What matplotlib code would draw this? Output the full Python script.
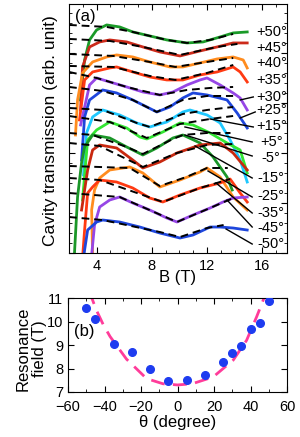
import numpy as np
import matplotlib
matplotlib.use("Agg")
import matplotlib.pyplot as plt
from matplotlib.ticker import MultipleLocator

plt.rcParams['font.family'] = ['Liberation Sans', 'DejaVu Sans']

# ---- panel (a): cavity transmission traces, offset, arb. units ----
angles = ['+50°', '+45°', '+40°', '+35°', '+30°', '+25°', '+15°', '+5°',
          '-5°', '-15°', '-25°', '-35°', '-45°', '-50°']
colors = ['#1a9a28', '#cc2a1a', '#ff8c1e', '#ff3a12', '#9646e6', '#1e46dc', '#1ec8ff',
          '#32e632', '#1a9628', '#c8280f', '#ff8c1e', '#ff3a12', '#9646e6', '#1e46dc']

B_p50 = [2.84, 2.91, 3.13, 3.49, 4.0, 4.73, 5.67, 6.62, 7.85, 9.09, 10.55, 11.71, 12.95, 13.89, 14.91]
T_p50 = [153, 166, 193, 213, 223, 228, 226, 221, 217, 213, 210, 211, 216, 220, 221]
B_p45 = [2.84, 2.98, 3.49, 4.22, 4.95, 6.18, 7.35, 8.58, 10.04, 11.49, 12.73, 13.89, 14.91]
T_p45 = [143, 186, 206, 211, 213, 211, 206, 201, 197, 202, 206, 210, 210]
B_p40 = [2.47, 2.62, 2.98, 3.71, 4.73, 5.45, 6.62, 7.85, 9.31, 10.25, 11.49, 12.73, 13.89, 14.62, 14.91]
T_p40 = [118, 153, 180, 191, 196, 198, 196, 191, 186, 186, 190, 194, 196, 193, 185]
B_p35 = [2.76, 3.13, 3.71, 4.95, 5.45, 6.62, 7.85, 9.09, 10.25, 11.49, 12.73, 13.89, 14.4, 14.91]
T_p35 = [133, 173, 181, 185, 186, 181, 176, 173, 173, 178, 181, 186, 181, 171]
B_p30 = [2.84, 3.49, 4.0, 4.95, 6.18, 7.35, 8.58, 9.53, 10.55, 11.49, 12.0, 12.95, 13.89, 14.4, 14.91]
T_p30 = [128, 168, 175, 171, 166, 161, 158, 161, 168, 173, 175, 168, 160, 155, 143]
B_p25 = [2.91, 3.13, 3.49, 4.44, 5.45, 6.62, 7.64, 8.36, 9.31, 10.25, 10.98, 12.0, 13.45, 14.18, 14.91]
T_p25 = [93, 136, 153, 163, 160, 153, 146, 141, 146, 155, 160, 158, 153, 140, 125]
B_p15 = [3.05, 3.27, 3.71, 4.44, 5.67, 6.91, 7.85, 9.09, 10.25, 10.76, 12.0, 12.95, 13.67, 14.4, 14.91]
T_p15 = [78, 120, 136, 143, 138, 130, 126, 131, 141, 143, 138, 130, 113, 93, 71]
B_p5 = [2.98, 3.35, 4.0, 4.95, 6.18, 7.13, 7.64, 8.8, 10.04, 10.98, 12.22, 13.45, 14.4, 14.91]
T_p5 = [53, 113, 123, 131, 125, 116, 114, 121, 130, 128, 120, 110, 103, 80]
B_m5 = [2.33, 2.62, 2.91, 3.13, 3.71, 4.95, 6.18, 7.35, 8.36, 9.53, 10.25, 11.49, 12.44, 13.45, 13.82]
T_m5 = [-17, 56, 90, 106, 118, 115, 106, 98, 105, 115, 118, 110, 96, 76, 63]
B_m15 = [2.91, 3.35, 3.71, 4.22, 5.45, 6.62, 7.35, 8.58, 9.82, 11.49, 12.95, 13.89, 14.91]
T_m15 = [43, 83, 103, 108, 105, 93, 85, 91, 100, 108, 110, 100, 83]
B_m25 = [3.71, 3.64, 3.85, 4.22, 4.95, 6.4, 7.35, 8.58, 10.04, 11.49, 12.0, 12.95, 13.89, 14.91]
T_m25 = [-2, 43, 63, 75, 83, 86, 80, 66, 73, 81, 85, 76, 56, 43]
B_m35 = [2.98, 3.13, 3.35, 3.71, 4.22, 5.45, 6.62, 7.85, 8.8, 10.04, 11.49, 12.95, 13.67, 14.4, 14.91]
T_m35 = [-5, 23, 60, 66, 73, 71, 65, 55, 51, 58, 65, 70, 74, 60, 51]
B_m45 = [3.64, 3.85, 4.22, 4.95, 5.67, 6.62, 7.85, 9.09, 9.82, 10.98, 12.22, 13.16, 13.89, 14.91]
T_m45 = [-2, 28, 46, 53, 56, 50, 43, 35, 31, 38, 45, 51, 55, 56]
B_m50 = [3.05, 3.13, 3.35, 4.0, 4.44, 5.67, 7.13, 8.58, 10.04, 10.98, 12.22, 12.95, 13.89, 14.91]
T_m50 = [-5, 3, 23, 31, 33, 31, 26, 20, 15, 18, 26, 26, 25, 23]

# fits (black dashed)
fB_p50 = [2.0, 4.73, 6.62, 9.09, 10.55, 12.22, 13.89]
fT_p50 = [228, 226, 221, 213, 210, 213, 219]
fB_p45 = [2.0, 4.95, 7.35, 10.04, 12.73, 14.2]
fT_p45 = [214, 212, 206, 198, 206, 209]
fB_p40 = [2.0, 5.2, 7.85, 9.7, 12.0, 13.9]
fT_p40 = [199, 197, 191, 186, 191, 195]
fB_p35 = [2.0, 5.2, 7.85, 9.7, 12.0, 13.9]
fT_p35 = [187, 186, 177, 173, 180, 188]
fB_p30 = [2.0, 4.0, 6.18, 8.58, 10.55, 12.22, 13.89]
fT_p30 = [181, 175, 166, 158, 163, 165, 166]
fB_p25 = [2.0, 4.44, 6.62, 8.36, 10.25, 12.0, 13.89]
fT_p25 = [166, 162, 153, 141, 153, 157, 157]
fB_p15 = [2.0, 4.44, 6.91, 7.85, 10.25, 12.0, 13.89]
fT_p15 = [145, 143, 130, 126, 139, 143, 146]
fB_p5 = [2.0, 4.95, 7.64, 10.04, 12.22, 13.89]
fT_p5 = [137, 131, 115, 129, 134, 137]
fB_m5 = [2.0, 3.71, 6.18, 7.35, 9.53, 10.25, 12.0, 13.7]
fT_m5 = [120, 118, 106, 99, 114, 118, 120, 120]
fB_m15 = [2.0, 4.22, 7.35, 9.82, 12.0, 13.9]
fT_m15 = [110, 107, 86, 100, 108, 109]
fB_m25 = [2.0, 6.4, 8.58, 10.5, 12.0, 13.5]
fT_m25 = [87, 85, 67, 76, 85, 85]
fB_m35 = [2.0, 4.22, 8.8, 11.49, 13.67]
fT_m35 = [75, 73, 51, 65, 74]
fB_m45 = [2.0, 5.67, 9.82, 12.22, 13.9]
fT_m45 = [60, 56, 31, 45, 55]
fB_m50 = [2.0, 4.44, 8.58, 10.04, 12.0, 13.2]
fT_m50 = [36, 33, 21, 16, 25, 28]

curves_B = [B_p50, B_p45, B_p40, B_p35, B_p30, B_p25, B_p15, B_p5, B_m5, B_m15, B_m25, B_m35, B_m45, B_m50]
curves_T = [T_p50, T_p45, T_p40, T_p35, T_p30, T_p25, T_p15, T_p5, T_m5, T_m15, T_m25, T_m35, T_m45, T_m50]
fits_B = [fB_p50, fB_p45, fB_p40, fB_p35, fB_p30, fB_p25, fB_p15, fB_p5, fB_m5, fB_m15, fB_m25, fB_m35, fB_m45, fB_m50]
fits_T = [fT_p50, fT_p45, fT_p40, fT_p35, fT_p30, fT_p25, fT_p15, fT_p5, fT_m5, fT_m15, fT_m25, fT_m35, fT_m45, fT_m50]

# label positions (y) and pointer lines (None = no pointer)
label_T = [221, 205, 190, 173, 156, 143, 127, 111, 95, 75, 57, 40, 25, 9]
ptr_B0 = [None, None, None, None, 14.4, 14.4, 12.22, 10.4, 10.4, 11.13, 12.07, 12.65, 13.45, 13.38]
ptr_T0 = [None, None, None, None, 153, 135, 134, 126, 118, 107, 82, 70, 53, 24]
ptr_B1 = [None, None, None, None, 15.35, 15.49, 15.35, 15.27, 15.27, 15.27, 15.27, 15.27, 15.27, 15.27]
ptr_T1 = [None, None, None, None, 156, 141, 126, 111, 97, 75, 56, 40, 26, 9]

# ---- panel (b): resonance field vs angle ----
theta = [-50, -45, -35, -25, -15, -5, 5, 15, 25, 30, 35, 40, 45, 50]
Bres = [10.57, 10.11, 9.03, 8.69, 7.97, 7.47, 7.51, 7.71, 8.29, 8.66, 8.97, 9.69, 9.94, 10.86]
fit_theta = [-48.5, -47, -44.6, -40.7, -37, -28, -17, -8, 0, 8, 19.5, 30.5, 37.8, 43.3, 47, 48.5]
fit_B = [11.3, 11.0, 10.5, 9.86, 9.36, 8.4, 7.57, 7.35, 7.3, 7.35, 7.64, 8.36, 9.2, 10.2, 10.93, 11.3]

fig = plt.figure(figsize=(3.0, 4.37), dpi=100)
ax = fig.add_axes([0.23, 0.421, 0.727, 0.570])
bx = fig.add_axes([0.227, 0.103, 0.730, 0.215])

for i in range(len(angles)):
    ax.plot(curves_B[i], curves_T[i], color=colors[i], lw=2.0, zorder=2)
for i in range(len(angles)):
    ax.plot(fits_B[i], fits_T[i], color='black', lw=1.4, dashes=(4, 2.5), zorder=3)
    if ptr_B0[i] is not None:
        ax.plot([ptr_B0[i], ptr_B1[i]], [ptr_T0[i], ptr_T1[i]], color='black', lw=1.0, zorder=4)
    ax.text(16.65, label_T[i], angles[i], ha='center', va='center', fontsize=10.5, zorder=5)

ax.text(2.45, 236, '(a)', fontsize=12, va='center')
ax.set_xlim(2, 17.8)
ax.set_ylim(0, 249)
ax.xaxis.set_major_locator(MultipleLocator(4))
ax.xaxis.set_minor_locator(MultipleLocator(1))
ax.yaxis.set_major_locator(MultipleLocator(50))
ax.yaxis.set_minor_locator(MultipleLocator(10))
ax.set_yticklabels([])
ax.tick_params(which='both', direction='in', top=True, right=True, labelsize=10.5)
ax.tick_params(which='major', length=4, pad=4)
ax.tick_params(which='minor', length=2)
ax.set_xlabel('B (T)', fontsize=12)
ax.xaxis.set_label_coords(0.5, -0.068)
ax.set_ylabel('Cavity transmission (arb. unit)', fontsize=12.5)
ax.yaxis.set_label_coords(-0.05, 0.49)

bx.plot(fit_theta, fit_B, color='#ff3c9a', lw=2.0, dashes=(5, 3), zorder=2)
bx.plot(theta, Bres, 'o', color='#1e3cf0', ms=5.5, zorder=3)
bx.text(0.025, 0.64, '(b)', transform=bx.transAxes, fontsize=12, va='center')
bx.set_xlim(-60, 60)
bx.set_ylim(7, 11)
bx.xaxis.set_major_locator(MultipleLocator(20))
bx.xaxis.set_minor_locator(MultipleLocator(10))
bx.yaxis.set_major_locator(MultipleLocator(1))
bx.tick_params(which='both', direction='in', top=True, right=True, labelsize=10.5)
bx.tick_params(which='major', length=4)
bx.tick_params(which='minor', length=2)
bx.tick_params(axis='x', pad=6)
bx.set_xlabel('θ (degree)', fontsize=12)
bx.xaxis.set_label_coords(0.5, -0.245)
bx.set_ylabel('Resonance\nfield (T)', fontsize=12, linespacing=1.15)
bx.yaxis.set_label_coords(-0.095, 0.46)

fig.savefig('out.png', dpi=100)
